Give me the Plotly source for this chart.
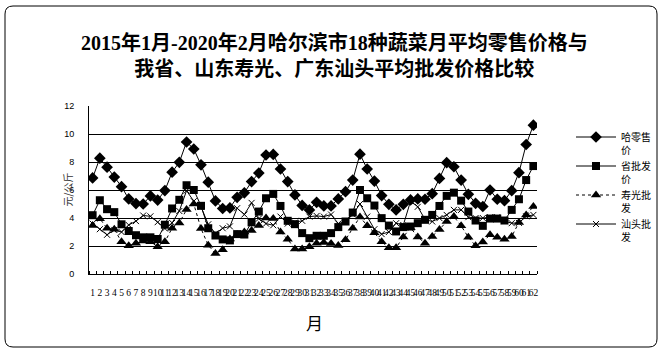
import plotly.graph_objects as go

months = list(range(1, 63))
tick_labels = [str(m) for m in months]

harbin_retail = [6.86, 8.27, 7.63, 6.92, 6.24, 5.36, 5.03, 5.00, 5.58, 5.28,
                 5.96, 7.27, 7.98, 9.43, 8.93, 7.80, 6.56, 5.22, 4.68, 4.72,
                 5.48, 5.80, 6.60, 7.21, 8.50, 8.54, 7.50, 6.60, 5.65, 4.90,
                 4.58, 5.12, 4.86, 4.86, 5.36, 5.88, 6.71, 8.56, 7.50, 6.64,
                 5.60, 4.98, 4.58, 4.98, 5.29, 5.36, 5.34, 5.74, 6.83, 7.95,
                 7.66, 6.71, 5.69, 5.05, 4.82, 6.00, 5.34, 5.24, 5.95, 7.24,
                 9.25, 10.63]
province_wholesale = [4.20, 5.27, 4.63, 4.42, 3.55, 3.07, 2.77, 2.62, 2.62, 2.50,
                      3.52, 4.68, 5.30, 6.34, 6.00, 4.87, 3.27, 2.75, 2.47, 2.40,
                      2.85, 2.82, 3.69, 4.46, 5.41, 5.72, 4.86, 3.80, 3.56, 2.92,
                      2.56, 2.73, 2.73, 2.92, 3.35, 3.75, 4.39, 6.00, 5.41, 4.89,
                      3.99, 3.46, 3.04, 3.35, 3.39, 3.63, 3.87, 4.22, 4.86, 5.58,
                      5.81, 5.24, 4.46, 3.82, 3.44, 3.96, 3.96, 3.82, 4.58, 5.34,
                      6.71, 7.71]
shouguang_wholesale = [3.46, 3.95, 3.27, 3.20, 2.30, 2.02, 2.20, 2.35, 2.30, 1.95,
                       2.30, 3.27, 3.65, 4.60, 5.00, 3.25, 2.05, 1.47, 1.73, 2.50,
                       2.80, 3.00, 3.10, 3.47, 4.00, 3.97, 3.00, 2.48, 1.78, 1.78,
                       1.95, 2.20, 2.25, 2.18, 2.04, 2.44, 3.27, 4.08, 3.45, 2.95,
                       2.30, 1.88, 1.88, 2.65, 3.30, 2.65, 2.20, 2.68, 3.18, 3.75,
                       4.10, 3.44, 2.63, 2.02, 2.28, 2.80, 2.63, 2.49, 2.68, 3.68,
                       4.22, 4.82]
shantou_wholesale = [3.60, 3.20, 2.80, 3.15, 3.00, 3.50, 3.78, 4.18, 4.12, 3.70,
                     3.25, 3.65, 4.50, 5.95, 5.20, 4.80, 3.55, 2.90, 3.27, 3.40,
                     4.70, 4.25, 5.08, 3.95, 3.60, 3.48, 4.10, 3.60, 3.68, 3.80,
                     4.10, 4.15, 4.10, 4.25, 3.60, 3.75, 4.25, 5.00, 4.10, 3.20,
                     2.85, 3.00, 3.63, 3.50, 5.20, 4.80, 3.90, 3.75, 3.99, 4.22,
                     4.58, 4.58, 4.06, 4.00, 4.00, 4.06, 4.06, 3.78, 3.63, 3.65,
                     4.12, 4.22]

series_names = ["哈零售<br>价", "省批发<br>价", "寿光批<br>发", "汕头批<br>发"]

CJK = "Noto Sans CJK SC"
fig = go.Figure()
fig.add_trace(go.Scatter(x=months, y=harbin_retail, name=series_names[0], mode="lines+markers",
                         line=dict(color="black", width=1),
                         marker=dict(symbol="diamond", size=9, color="black")))
fig.add_trace(go.Scatter(x=months, y=province_wholesale, name=series_names[1], mode="lines+markers",
                         line=dict(color="black", width=1),
                         marker=dict(symbol="square", size=8, color="black")))
fig.add_trace(go.Scatter(x=months, y=shouguang_wholesale, name=series_names[2], mode="lines+markers",
                         line=dict(color="black", width=1, dash="3px,3px"),
                         marker=dict(symbol="triangle-up", size=9, color="black")))
fig.add_trace(go.Scatter(x=months, y=shantou_wholesale, name=series_names[3], mode="lines+markers",
                         line=dict(color="black", width=1),
                         marker=dict(symbol="x-thin", size=6, color="black",
                                     line=dict(color="black", width=1))))

W, H = 662, 353
L, R, T, B = 89, 125, 106, 79
pw, ph = W - L - R, H - T - B

def px(x):
    return (x - L) / pw

def py(y):
    return (H - B - y) / ph

# rounded outer border
x0, x1, y0, y1 = px(5), px(657), py(6), py(347)
rx, ry = 8 / pw, 8 / ph
path = (f"M {x0+rx},{y0} L {x1-rx},{y0} Q {x1},{y0} {x1},{y0-ry} "
        f"L {x1},{y1+ry} Q {x1},{y1} {x1-rx},{y1} L {x0+rx},{y1} "
        f"Q {x0},{y1} {x0},{y1+ry} L {x0},{y0-ry} Q {x0},{y0} {x0+rx},{y0} Z")

fig.update_layout(
    width=W, height=H,
    margin=dict(l=L, r=R, t=T, b=B, autoexpand=False),
    paper_bgcolor="white", plot_bgcolor="white",
    title=dict(text="2015年1月-2020年2月哈尔滨市18种蔬菜月平均零售价格与<br>我省、山东寿光、广东汕头平均批发价格比较",
               x=0.505, xanchor="center", y=1 - 49.5 / H, yanchor="middle",
               font=dict(family="Liberation Serif, " + CJK, size=20, color="black", weight="bold")),
    xaxis=dict(range=[0.5, 62.5], tickmode="array", tickvals=months, ticktext=tick_labels,
               tickangle=0, ticks="", showgrid=False, zeroline=False, showline=True,
               linecolor="black", linewidth=1,
               tickfont=dict(family="Liberation Serif", size=9.5, color="black"),
               ticklabelstandoff=10,
               minor=dict(ticks="inside", ticklen=3, tickcolor="black", tickwidth=1,
                          tick0=0.5, dtick=1, showgrid=False)),
    yaxis=dict(range=[0, 12], dtick=2, tick0=0, showgrid=True, gridcolor="black", gridwidth=1,
               zeroline=False, showline=True, linecolor="black", linewidth=1, ticks="",
               tickfont=dict(family="Liberation Sans", size=9, color="black"),
               ticklabelstandoff=12),
    legend=dict(x=px(571), y=py(124), xanchor="left", yanchor="top",
                font=dict(family=CJK, size=10, color="black"), valign="top",
                itemwidth=40, tracegroupgap=0, bgcolor="rgba(0,0,0,0)"),
    showlegend=True,
    annotations=[
        dict(text="元/公斤", x=px(57), y=py(190), xref="paper", yref="paper", showarrow=False,
             textangle=-90, font=dict(family=CJK, size=10, color="#333333")),
        dict(text="月", x=px(314), y=py(322), xref="paper", yref="paper", showarrow=False,
             xanchor="center", yanchor="middle",
             font=dict(family=CJK, size=17, color="black")),
    ],
    shapes=[dict(type="path", path=path, xref="paper", yref="paper",
                 line=dict(color="black", width=1), layer="below")],
)

fig.write_html("out.html")
